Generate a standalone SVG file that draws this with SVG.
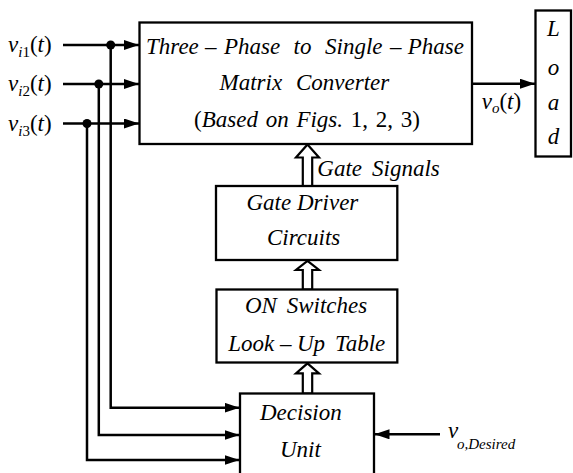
<svg xmlns="http://www.w3.org/2000/svg" width="573" height="473" viewBox="0 0 573 473">
<style>
text{font-family:"Liberation Serif","Times New Roman",serif;font-size:23px;font-style:italic;fill:#000}
.up{font-style:normal}
.sub{font-size:15px}
.box{fill:#fff;stroke:#000;stroke-width:2.3}
.ln{fill:none;stroke:#000;stroke-width:2.5}
.hol{fill:#fff;stroke:#000;stroke-width:2.2;stroke-linejoin:miter}
</style>
<defs>
<marker id="ah" markerUnits="userSpaceOnUse" markerWidth="16" markerHeight="10" refX="15" refY="5" orient="auto">
<path d="M0,0 L15,5 L0,10 z" fill="#000"/>
</marker>
</defs>
<rect width="573" height="473" fill="#fff"/>

<g id="connectors">
<line class="ln" x1="63" y1="45" x2="139" y2="45" marker-end="url(#ah)"/>
<line class="ln" x1="63" y1="84" x2="139" y2="84" marker-end="url(#ah)"/>
<line class="ln" x1="63" y1="123.5" x2="139" y2="123.5" marker-end="url(#ah)"/>
<circle cx="110.7" cy="45" r="4.5"/>
<circle cx="98.8" cy="84" r="4.5"/>
<circle cx="87" cy="123.5" r="4.5"/>
<polyline class="ln" points="110.7,45 110.7,407.7 239.5,407.7" marker-end="url(#ah)"/>
<polyline class="ln" points="98.8,84 98.8,435 239.5,435" marker-end="url(#ah)"/>
<polyline class="ln" points="87,123.5 87,460 239.5,460" marker-end="url(#ah)"/>
<line class="ln" x1="472" y1="83.7" x2="535" y2="83.7" marker-end="url(#ah)"/>
<line class="ln" x1="440" y1="434.3" x2="374.5" y2="434.3" marker-end="url(#ah)"/>
<polygon class="hol" points="307.5,144.5 319,157.5 312.2,157.5 312.2,186 302.8,186 302.8,157.5 296,157.5"/>
<polygon class="hol" points="307.5,260.8 319,270 312.2,270 312.2,289.5 302.8,289.5 302.8,270 296,270"/>
<polygon class="hol" points="307.5,363.3 319,373.3 312.2,373.3 312.2,393.5 302.8,393.5 302.8,373.3 296,373.3"/>
</g>

<g id="input-labels">
<text x="8" y="52">v<tspan class="sub" dy="5">i</tspan><tspan class="sub up">1</tspan><tspan class="up" dy="-5">(</tspan>t<tspan class="up">)</tspan></text>
<text x="8" y="91">v<tspan class="sub" dy="5">i</tspan><tspan class="sub up">2</tspan><tspan class="up" dy="-5">(</tspan>t<tspan class="up">)</tspan></text>
<text x="8" y="130.5">v<tspan class="sub" dy="5">i</tspan><tspan class="sub up">3</tspan><tspan class="up" dy="-5">(</tspan>t<tspan class="up">)</tspan></text>
</g>

<g id="matrix-converter">
<rect class="box" x="139.5" y="22.5" width="332.5" height="121.5"/>
<text y="53.5"><tspan x="146">Three</tspan><tspan x="205">–</tspan><tspan x="224">Phase</tspan><tspan x="293.5">to</tspan><tspan x="325">Single</tspan><tspan x="390">–</tspan><tspan x="407.7">Phase</tspan></text>
<text y="90"><tspan x="219.5">Matrix</tspan><tspan x="296">Converter</tspan></text>
<text x="194" y="126.5" word-spacing="2"><tspan class="up">(</tspan>Based on Figs.<tspan class="up"> 1, 2, 3)</tspan></text>
</g>

<g id="vo-label">
<text x="481.7" y="108.5">v<tspan class="sub" dy="4">o</tspan><tspan class="up" dy="-4">(</tspan>t<tspan class="up">)</tspan></text>
</g>

<g id="load">
<rect class="box" x="535.5" y="10.5" width="35.5" height="146"/>
<text x="553.5" y="36" text-anchor="middle">L</text>
<text x="553.5" y="75" text-anchor="middle">o</text>
<text x="553.5" y="110" text-anchor="middle">a</text>
<text x="553.5" y="144" text-anchor="middle">d</text>
</g>

<g id="gate-signals-label">
<text y="176"><tspan x="317.3">Gate</tspan><tspan x="372">Signals</tspan></text>
</g>

<g id="gate-driver">
<rect class="box" x="216" y="186" width="181.3" height="74"/>
<text y="210"><tspan x="246.5">Gate</tspan><tspan x="297">Driver</tspan></text>
<text x="267" y="245">Circuits</text>
</g>

<g id="lookup-table">
<rect class="box" x="216.5" y="289.5" width="180.8" height="73"/>
<text y="313"><tspan x="245">ON</tspan><tspan x="286.7">Switches</tspan></text>
<text y="351"><tspan x="228.3">Look</tspan><tspan x="280">–</tspan><tspan x="297">Up</tspan><tspan x="335">Table</tspan></text>
</g>

<g id="decision-unit">
<rect class="box" x="240" y="393.5" width="134" height="85"/>
<text x="260" y="420">Decision</text>
<text x="280" y="457">Unit</text>
</g>

<g id="vo-desired-label">
<text x="448" y="438">v<tspan class="sub" x="457" dy="11">o,Desired</tspan></text>
</g>
</svg>
